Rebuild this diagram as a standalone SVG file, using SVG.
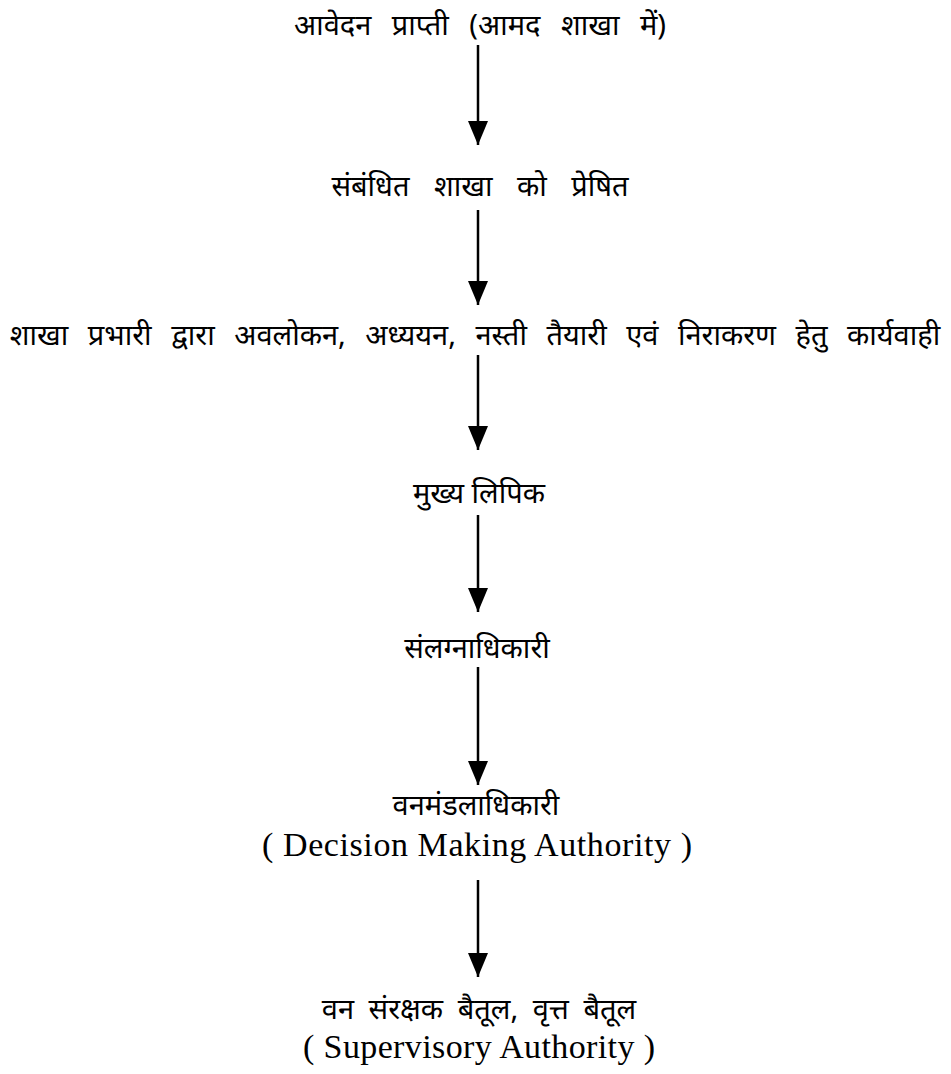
<svg xmlns="http://www.w3.org/2000/svg" width="951" height="1074" viewBox="0 0 951 1074">
<style>
.hi{font-family:"Noto Sans","Noto Sans CJK SC",sans-serif;font-size:29px;fill:#000;text-anchor:middle}
.en{font-family:"Liberation Serif",serif;font-size:34px;fill:#000;text-anchor:middle}
.c{stroke:#000;stroke-width:2.5;fill:none}
</style>
<defs>
<marker id="ah" markerUnits="userSpaceOnUse" markerWidth="24" markerHeight="20" refX="24" refY="10" orient="auto" viewBox="0 0 24 20">
<path d="M0,0 L24,10 L0,20 Z" fill="#000"/>
</marker>
</defs>
<rect width="951" height="1074" fill="#fff"/>
<g id="n1"><text class="hi" x="480" y="35" word-spacing="13">आवेदन प्राप्ती (आमद शाखा में)</text></g>
<g id="n2"><text class="hi" x="480" y="196" word-spacing="17">संबंधित शाखा को प्रेषित</text></g>
<g id="n3"><text class="hi" x="475" y="345" word-spacing="12">शाखा प्रभारी द्वारा अवलोकन, अध्ययन, नस्ती तैयारी एवं निराकरण हेतु कार्यवाही</text></g>
<g id="n4"><text class="hi" x="479" y="503">मुख्य लिपिक</text></g>
<g id="n5"><text class="hi" x="477" y="658">संलग्नाधिकारी</text></g>
<g id="n6"><text class="hi" x="476" y="815">वनमंडलाधिकारी</text><text class="en" x="477" y="856" textLength="430" lengthAdjust="spacing">( Decision Making Authority )</text></g>
<g id="n7"><text class="hi" x="479" y="1019" word-spacing="7">वन संरक्षक बैतूल, वृत्त बैतूल</text><text class="en" x="479" y="1058" textLength="352" lengthAdjust="spacing">( Supervisory Authority )</text></g>
<g id="connectors">
<line class="c" x1="478" y1="45" x2="478" y2="145" marker-end="url(#ah)"/>
<line class="c" x1="478" y1="210" x2="478" y2="305" marker-end="url(#ah)"/>
<line class="c" x1="478" y1="355" x2="478" y2="450" marker-end="url(#ah)"/>
<line class="c" x1="478" y1="515" x2="478" y2="612" marker-end="url(#ah)"/>
<line class="c" x1="478" y1="667" x2="478" y2="785" marker-end="url(#ah)"/>
<line class="c" x1="478" y1="880" x2="478" y2="977" marker-end="url(#ah)"/>
</g>
</svg>
